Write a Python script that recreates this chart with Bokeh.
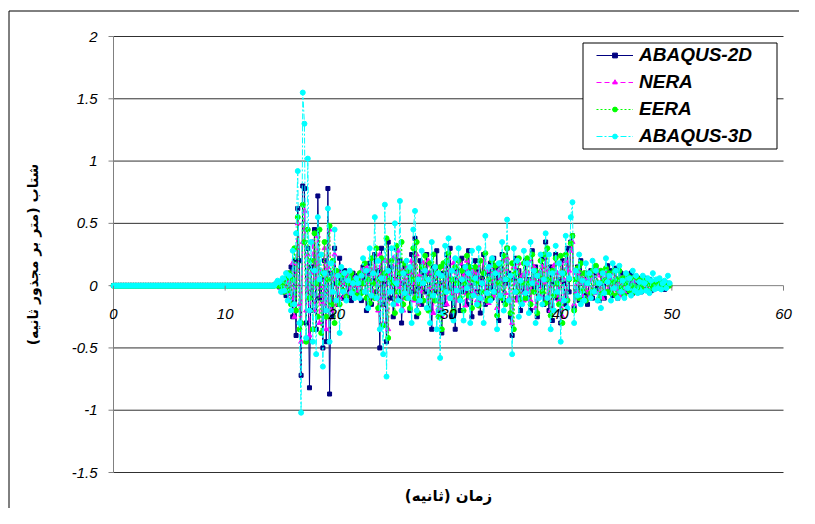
import numpy as np
from bokeh.plotting import figure
from bokeh.models import Range1d, Legend
from bokeh.core.properties import value
from bokeh.embed import file_html
from bokeh.resources import INLINE

# ---------------- data ----------------
SAMPLE_STEP = 0.15          # s
PRE_EVENT_SAMPLES = 96      # quiet record from 0 to ~14.4 s
pre_event = [0.0] * PRE_EVENT_SAMPLES

abaqus_2d = [
    0.0, 0.01, 0.02, -0.01, 0.03, -0.05, 0.04, -0.08, 0.1, -0.06,
    0.15, -0.25, 0.2, -0.4, 0.62, 0.2, -0.72, 0.8, 0.78, -0.3,
    0.3, -0.82, 0.15, -0.2, 0.45, -0.35, 0.72, -0.1, 0.05, -0.5,
    0.2, -0.45, 0.78, -0.87, 0.1, -0.25, 0.3, 0.02, -0.15, 0.22,
    0.05, -0.1, 0.12, 0.02, -0.08, 0.06, -0.12, 0.1, 0.0, -0.05,
    0.08, 0.02, -0.12, 0.15, 0.05, -0.2, 0.1, 0.18, -0.15, 0.04,
    0.25, -0.05, 0.12, -0.5, 0.3, -0.15, 0.02, -0.45, 0.35, -0.1,
    0.15, -0.25, 0.05, 0.3, -0.1, 0.2, -0.3, 0.02, 0.15, -0.08,
    0.1, -0.2, 0.25, -0.05, 0.38, -0.25, -0.02, 0.2, -0.15, 0.1,
    -0.05, 0.25, -0.18, 0.1, -0.35, 0.15, -0.05, 0.28, -0.2, 0.02,
    -0.38, 0.1, -0.15, 0.25, -0.02, 0.3, -0.25, 0.05, -0.35, 0.12,
    0.02, -0.2, 0.22, -0.05, 0.15, -0.15, 0.28, 0.0, -0.25, 0.1,
    0.2, -0.05, 0.12, -0.22, 0.06, 0.25, -0.15, 0.1, -0.02, 0.18,
    -0.1, 0.22, -0.05, 0.15, -0.28, 0.05, 0.25, -0.12, 0.02, 0.3,
    0.1, -0.25, -0.4, 0.05, 0.22, -0.1, 0.12, -0.2, 0.08, -0.05,
    0.2, -0.1, 0.05, -0.2, 0.28, -0.02, 0.15, -0.25, 0.1, 0.0,
    0.22, -0.15, 0.35, 0.05, -0.2, 0.15, -0.28, 0.02, 0.25, -0.1,
    0.05, -0.3, 0.2, 0.02, -0.15, 0.3, -0.05, 0.35, 0.4, -0.18,
    -0.05, 0.15, -0.12, 0.2, 0.02, -0.08, 0.1, -0.15, 0.05, 0.12,
    -0.1, 0.08, 0.15, -0.02, -0.12, 0.1, 0.02, -0.1, 0.05, 0.16,
    -0.05, 0.12, -0.08, 0.02, 0.14, -0.1, 0.05, 0.1, -0.06, 0.02,
    0.08, -0.05, 0.02, 0.1, -0.06, 0.03, -0.04, 0.06, 0.01, -0.05,
    0.04, 0.06, -0.03, 0.02, 0.05, -0.04, 0.01, 0.03, -0.02, 0.04,
    -0.02, 0.03, 0.01, -0.03, 0.02, 0.0, 0.01,
]

nera = [
    0.0, 0.0, 0.01, 0.02, -0.02, 0.03, -0.02, 0.05, -0.06, 0.04,
    -0.1, 0.18, -0.25, 0.3, 0.5, -0.15, -0.45, 0.35, 0.6, -0.2,
    0.25, -0.4, 0.1, 0.35, -0.2, 0.05, 0.4, -0.3, 0.12, -0.15,
    0.3, -0.35, 0.15, 0.45, -0.2, 0.05, 0.25, -0.15, 0.02, -0.1,
    0.1, 0.02, -0.08, 0.05, 0.08, -0.06, 0.02, -0.04, 0.06, 0.0,
    -0.04, 0.06, 0.12, -0.05, 0.02, 0.15, -0.1, 0.05, 0.12, -0.08,
    0.15, 0.02, -0.2, 0.25, -0.1, -0.3, 0.2, 0.05, -0.35, 0.1,
    -0.05, 0.22, 0.05, -0.15, 0.28, -0.02, 0.12, -0.2, 0.05, 0.14,
    -0.08, 0.1, 0.2, -0.12, 0.02, 0.25, -0.15, 0.08, -0.05, 0.18,
    0.05, -0.12, 0.2, -0.02, 0.1, -0.22, 0.15, 0.0, -0.18, 0.08,
    -0.25, 0.15, 0.02, -0.15, 0.22, 0.05, -0.1, 0.18, -0.05, 0.1,
    -0.12, 0.18, -0.02, 0.08, -0.16, 0.2, 0.02, -0.1, 0.12, -0.05,
    0.1, -0.12, 0.15, 0.02, -0.1, 0.2, -0.05, 0.12, -0.14, 0.05,
    0.16, -0.08, 0.02, -0.18, 0.12, 0.05, -0.1, 0.2, -0.06, 0.22,
    -0.1, 0.05, -0.3, 0.15, 0.02, -0.12, 0.18, -0.05, 0.08, -0.12,
    0.1, -0.05, 0.2, -0.12, 0.05, 0.15, -0.18, 0.02, 0.1, -0.08,
    0.15, 0.02, 0.25, -0.1, 0.12, -0.2, 0.05, 0.16, -0.08, 0.1,
    -0.12, 0.18, -0.25, 0.05, 0.2, -0.1, 0.12, 0.28, 0.35, -0.15,
    0.1, -0.05, 0.12, 0.02, -0.08, 0.1, -0.04, 0.06, -0.1, 0.05,
    0.08, -0.06, 0.02, 0.12, -0.05, 0.08, -0.1, 0.03, 0.1, -0.04,
    0.06, 0.02, -0.06, 0.1, -0.03, 0.05, -0.08, 0.06, 0.02, -0.05,
    0.05, -0.02, 0.06, -0.04, 0.02, 0.05, -0.03, 0.04, -0.02, 0.03,
    -0.02, 0.04, 0.01, -0.03, 0.03, 0.0, -0.02, 0.02, 0.01, -0.01,
    0.02, -0.01, 0.02, 0.0, -0.01, 0.01, 0.0,
]

eera = [
    0.0, 0.01, 0.0, 0.03, -0.01, 0.02, -0.05, 0.06, -0.04, 0.1,
    -0.15, 0.05, 0.3, -0.2, 0.55, -0.35, -0.3, 0.65, 0.35, -0.45,
    0.45, -0.1, 0.2, -0.35, 0.42, 0.02, -0.25, 0.45, -0.38, 0.1,
    0.35, -0.25, 0.05, 0.48, -0.15, 0.2, -0.3, 0.12, 0.02, -0.15,
    0.08, -0.04, 0.1, -0.09, 0.02, 0.06, 0.1, -0.05, 0.04, -0.08,
    0.05, 0.1, -0.06, 0.02, 0.18, -0.1, 0.05, -0.14, 0.22, 0.02,
    -0.1, 0.3, -0.18, 0.05, 0.22, -0.32, 0.1, 0.38, -0.42, 0.05,
    0.2, 0.02, -0.22, 0.32, -0.05, 0.1, 0.35, -0.15, 0.18, -0.1,
    0.12, -0.18, 0.05, 0.3, -0.1, 0.35, -0.22, 0.02, 0.15, -0.12,
    0.24, 0.05, -0.2, 0.18, -0.08, 0.25, -0.12, 0.1, -0.25, 0.15,
    -0.35, 0.18, -0.05, 0.2, 0.26, -0.1, 0.05, -0.2, 0.15, 0.02,
    0.2, -0.1, 0.12, -0.2, 0.02, 0.24, -0.08, 0.15, -0.18, 0.05,
    0.15, 0.02, -0.16, 0.2, -0.05, 0.1, 0.26, -0.12, 0.05, -0.1,
    0.2, -0.05, 0.16, -0.24, 0.02, 0.18, -0.1, 0.24, -0.15, 0.3,
    0.05, -0.22, 0.18, -0.35, 0.1, -0.05, 0.22, -0.12, 0.02, 0.18,
    -0.1, 0.22, 0.02, -0.15, 0.25, -0.05, 0.12, -0.22, 0.08, 0.2,
    -0.05, 0.25, -0.14, 0.3, 0.05, -0.24, 0.12, -0.08, 0.22, 0.02,
    -0.15, 0.24, -0.3, 0.1, 0.25, -0.12, 0.05, 0.34, 0.4, -0.2,
    0.05, 0.14, -0.1, 0.18, -0.04, 0.1, -0.12, 0.02, 0.08, -0.06,
    0.12, -0.04, 0.16, 0.02, -0.1, 0.12, -0.06, 0.04, 0.14, -0.05,
    0.1, -0.06, 0.03, 0.12, -0.08, 0.05, 0.12, -0.02, 0.06, -0.08,
    0.02, 0.08, -0.04, 0.06, 0.0, -0.05, 0.07, -0.02, 0.05, 0.01,
    -0.03, 0.05, 0.02, -0.04, 0.04, 0.01, -0.02, 0.03, 0.0, 0.02,
    0.03, -0.02, 0.01, 0.02, -0.01, 0.01, 0.0,
]

abaqus_3d = [
    0.0, 0.02, 0.04, 0.03, -0.05, 0.06, -0.04, 0.1, -0.12, 0.08,
    -0.2, 0.28, -0.15, 0.42, 0.92, -0.3, -1.02, 1.55, 1.3, -0.42,
    1.02, -0.2, 0.35, -0.45, 0.12, -0.55, 0.55, 0.05, 0.25, -0.65,
    0.1, -0.2, 0.62, -0.45, 0.18, -0.05, 0.45, -0.12, 0.08, -0.38,
    0.15, -0.05, 0.1, -0.12, 0.04, 0.12, -0.06, 0.02, -0.1, 0.06,
    0.02, -0.1, 0.08, 0.22, -0.05, 0.12, -0.18, 0.3, -0.08, 0.1,
    0.55, -0.1, 0.2, -0.35, 0.06, -0.55, 0.65, -0.73, 0.12, -0.05,
    0.3, -0.15, 0.5, 0.02, -0.12, 0.68, -0.2, 0.1, -0.06, 0.2,
    -0.1, 0.15, -0.3, 0.45, 0.6, -0.2, 0.05, -0.12, 0.28, 0.02,
    0.12, -0.18, 0.05, -0.3, 0.35, -0.08, 0.15, -0.35, 0.1, -0.58,
    0.08, -0.22, 0.32, -0.05, 0.38, -0.1, 0.12, -0.28, 0.22, -0.04,
    0.3, -0.12, 0.05, -0.28, 0.15, -0.02, 0.1, -0.3, 0.28, -0.08,
    0.06, -0.15, 0.3, -0.1, 0.02, -0.3, 0.4, -0.06, 0.15, -0.12,
    0.22, -0.05, 0.1, -0.35, 0.18, -0.08, 0.35, -0.2, 0.05, 0.53,
    -0.12, 0.08, -0.55, 0.3, -0.05, 0.2, -0.25, 0.04, -0.15, 0.28,
    -0.06, 0.18, -0.22, 0.35, 0.02, 0.12, -0.3, 0.08, -0.1, 0.25,
    -0.15, 0.05, 0.42, -0.1, 0.25, -0.35, 0.1, -0.2, 0.32, -0.05,
    0.18, -0.45, 0.1, -0.12, 0.4, -0.18, 0.06, 0.55, 0.67, -0.3,
    0.12, -0.08, 0.25, -0.15, 0.04, -0.12, 0.18, 0.02, 0.1, -0.1,
    0.2, -0.05, 0.12, -0.12, 0.02, -0.18, 0.1, -0.06, 0.22, 0.03,
    0.08, -0.12, 0.18, -0.02, 0.12, -0.1, 0.16, -0.05, 0.04, -0.1,
    0.1, -0.02, 0.06, -0.08, 0.12, -0.04, 0.08, -0.06, 0.03, -0.05,
    0.08, 0.02, -0.04, 0.06, -0.06, 0.04, 0.1, -0.03, 0.05, -0.02,
    0.06, -0.03, 0.02, 0.04, -0.02, 0.08, 0.02,
]

series_names = ["ABAQUS-2D", "NERA", "EERA", "ABAQUS-3D"]
x_ticks = [0, 10, 20, 30, 40, 50, 60]
x_tick_labels = ["0", "10", "20", "30", "40", "50", "60"]
y_ticks = [-1.5, -1, -0.5, 0, 0.5, 1, 1.5, 2]
y_tick_labels = ["-1.5", "-1", "-0.5", "0", "0.5", "1", "1.5", "2"]
x_title = "زمان (ثانیه)"
y_title = "شتاب (متر بر مجذور ثانیه)"

X_MIN, X_MAX = 0, 60
Y_MIN, Y_MAX = -1.5, 2

# ---------------- layout (canvas pixels) ----------------
W, H = 799, 508
PLOT_L, PLOT_R, PLOT_T, PLOT_B = 113, 783, 36, 472
sx = (PLOT_R - PLOT_L) / (X_MAX - X_MIN)
sy = (PLOT_B - PLOT_T) / (Y_MAX - Y_MIN)
x_lo = X_MIN - PLOT_L / sx
y_hi = Y_MAX + PLOT_T / sy


def X(px):
    return x_lo + px / sx


def Y(py):
    return y_hi - py / sy


p = figure(width=W, height=H, output_backend="svg", toolbar_location=None,
           x_range=Range1d(x_lo, X(W)), y_range=Range1d(Y(H), y_hi),
           x_axis_location=None, y_axis_location=None,
           min_border=0, outline_line_color=None,
           background_fill_color="white", border_fill_color="white")
p.grid.visible = False

TICK_FONT = value("Liberation Sans")
TITLE_FONT = value("DejaVu Sans")
AXIS_GRAY = "#808080"

# outer chart border (left and top edges fall inside the window)
p.line([X(8.5), X(8.5), X(W + 10)], [Y(H + 10), Y(10.5), Y(10.5)],
       line_color="black", line_width=1)

# horizontal gridlines
grid_vals = [v for v in y_ticks if v != 0]
p.segment(x0=[X_MIN] * len(grid_vals), y0=grid_vals, x1=[X_MAX] * len(grid_vals),
          y1=grid_vals, line_color="#303030", line_width=1)

# y axis, ticks, labels
p.segment(x0=[X_MIN], y0=[Y_MIN], x1=[X_MIN], y1=[Y_MAX], line_color=AXIS_GRAY, line_width=1)
p.segment(x0=[X_MIN] * len(y_ticks), y0=y_ticks, x1=[X(PLOT_L - 5)] * len(y_ticks),
          y1=y_ticks, line_color=AXIS_GRAY, line_width=1)
p.text(x=[X_MIN] * len(y_ticks), y=y_ticks, text=y_tick_labels, x_offset=-16,
       text_font=TICK_FONT, text_font_style="italic", text_font_size="15px",
       text_align="right", text_baseline="middle", text_color="black")

# x axis line crossing at y = 0
p.segment(x0=[X_MIN], y0=[0], x1=[X_MAX], y1=[0], line_color=AXIS_GRAY, line_width=1)

# ---------------- series ----------------
styles = [
    dict(data=abaqus_2d, color="#000080", dash="solid", marker="square", size=4),
    dict(data=nera, color="#FF00FF", dash="5 3", marker="triangle", size=5),
    dict(data=eera, color="#00FF00", dash="2 2", marker="circle", size=5),
    dict(data=abaqus_3d, color="#00FFFF", dash="6 2 2 2", marker="circle", size=5),
]

legend_items = []
for name, st in zip(series_names, styles):
    y = np.array(pre_event + st["data"])
    t = np.round(np.arange(len(y)) * SAMPLE_STEP, 2)
    r1 = p.line(t, y, line_color=st["color"], line_width=1, line_dash=st["dash"])
    r2 = p.scatter(t, y, marker=st["marker"], size=st["size"],
                   fill_color=st["color"], line_color=st["color"])
    legend_items.append((name, [r1, r2]))

# x tick marks and labels on the y = 0 axis
p.segment(x0=x_ticks, y0=[0] * len(x_ticks), x1=x_ticks, y1=[-5 / sy] * len(x_ticks),
          line_color=AXIS_GRAY, line_width=1)
p.text(x=x_ticks, y=[0] * len(x_ticks), text=x_tick_labels, y_offset=28,
       text_font=TICK_FONT, text_font_style="italic", text_font_size="15px",
       text_align="center", text_baseline="middle", text_color="black")

# axis titles
p.text(x=[X(32)], y=[(Y_MIN + Y_MAX) / 2], text=[y_title], angle=np.pi / 2,
       text_font=TITLE_FONT, text_font_style="bold", text_font_size="14px",
       text_align="center", text_baseline="middle", text_color="black")
p.text(x=[(X_MIN + X_MAX) / 2], y=[Y(495)], text=[x_title],
       text_font=TITLE_FONT, text_font_style="bold", text_font_size="15px",
       text_align="center", text_baseline="middle", text_color="black")

# legend box
p.quad(left=[X(582.5)], right=[X(776.5)], top=[Y(42.5)], bottom=[Y(148.5)],
       fill_color="white", line_color="black", line_width=1)

legend = Legend(items=legend_items, location=(596, H - 147))
legend.label_text_font = "Liberation Sans"
legend.label_text_font_style = "bold italic"
legend.label_text_font_size = "19px"
legend.label_text_color = "black"
legend.glyph_width = 37
legend.glyph_height = 12
legend.label_height = 20
legend.label_standoff = 6
legend.spacing = 5
legend.padding = 4
legend.margin = 0
legend.border_line_color = None
legend.background_fill_alpha = 0
p.add_layout(legend)

open("out.html", "w").write(file_html(p, INLINE))
